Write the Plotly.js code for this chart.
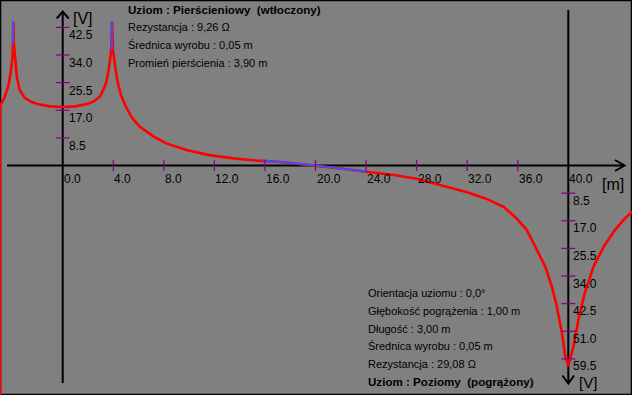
<!DOCTYPE html>
<html><head><meta charset="utf-8">
<script src="https://cdn.plot.ly/plotly-3.0.1.min.js"></script>
<style>html,body{margin:0;padding:0;background:#808080;overflow:hidden}</style>
</head><body>
<div id="chart" style="width:632px;height:395px"></div>
<script>
// ---- data (distance in m, potential in V; negative = below the axis) ----
const curveX = [-4.96, -4.96, -4.6, -4.3, -4.1, -3.98, -3.93, -3.9, -3.86, -3.78, -3.62, -3.4, -3.0, -2.5, -2.0, -1.0, 0,
  1.0, 2.0, 2.5, 3.0, 3.4, 3.62, 3.78, 3.86, 3.9, 3.93, 3.98, 4.1, 4.3, 4.6, 5.0, 5.5, 6.1, 7.2, 8.2, 9.8, 11.6, 13.5,
  15.4, 17.2, 18.8, 20.0, 22.0, 24.0, 26.2, 28.0, 30.1, 32.0, 33.5, 34.9, 35.9, 36.7, 37.2, 37.8, 38.2, 38.7, 39.1,
  39.5, 39.75, 40.0, 40.4, 40.8, 41.3, 42.0, 42.8, 43.7, 44.5, 45.05];
const curveV = [-70.6, 18.3, 21.0, 24.5, 29.0, 33.0, 37.5, 44.3, 37.5, 34.0, 27.0, 23.2, 20.8, 19.6, 18.9, 18.2, 18.0,
  18.2, 19.0, 19.8, 21.5, 25.0, 29.0, 33.5, 37.0, 44.3, 38.0, 35.5, 32.0, 26.5, 21.8, 18.0, 14.6, 11.9, 8.9, 6.8, 4.8, 3.2, 2.2,
  1.5, 1.1, 0.5, 0.0, -0.9, -1.9, -2.9, -4.1, -6.2, -8.2, -10.2, -12.8, -16.2, -19.8, -23.5, -28.0, -31.3, -37.3, -43.5,
  -51.6, -58.5, -61.7, -55.8, -47.5, -39.3, -31.1, -25.0, -19.8, -16.2, -14.2];
const blueX = [-3.93, -3.93, null, 3.88, 3.88, null, 15.85, 17.2, 18.8, 20.0, 22.0, 24.0];
const blueV = [37.5, 44.3, null, 35.5, 44.3, null, 1.5, 1.1, 0.5, 0.0, -0.9, -1.9];

const xTickVals = [0, 4, 8, 12, 16, 20, 24, 28, 32, 36, 40];
const xTickText = ["0.0", "4.0", "8.0", "12.0", "16.0", "20.0", "24.0", "28.0", "32.0", "36.0", "40.0"];
const yLeftVals = [8.5, 17.0, 25.5, 34.0, 42.5];
const yLeftText = ["8.5", "17.0", "25.5", "34.0", "42.5"];
const yRightVals = [8.5, 17.0, 25.5, 34.0, 42.5, 51.0, 59.5];
const yRightText = ["8.5", "17.0", "25.5", "34.0", "42.5", "51.0", "59.5"];

const ringInfo = ["<b>Uziom : Pierścieniowy \u00a0(wtłoczony)</b>", "Rezystancja : 9,26 Ω", "Średnica wyrobu : 0,05 m", "Promień pierścienia : 3,90 m"];
const lineInfo = ["Orientacja uziomu : 0,0°", "Głębokość pogrążenia : 1,00 m", "Długość : 3,00 m", "Średnica wyrobu : 0,05 m", "Rezystancja : 29,08 Ω", "<b>Uziom : Poziomy \u00a0(pogrążony)</b>"];

// ---- layout geometry (pixels) ----
const W = 632, H = 395;
const X0PX = 62.7, PXPM = 12.64, Y0PX = 165.5, PXPV = 3.25;
const fx = px => (px - X0PX) / PXPM;
const fy = py => (Y0PX - py) / PXPV;
const xRange = [fx(0), fx(W)];
const yRange = [fy(H), fy(0)];
const FONT = "Liberation Sans, Arial, sans-serif";
const TICKC = "#800080";

const traces = [
  {x: curveX, y: curveV, mode: "lines", line: {color: "#ff0000", width: 2.6}, hoverinfo: "skip"},
  {x: blueX, y: blueV, mode: "lines", line: {color: "#4a4af0", width: 2.2}, connectgaps: false, hoverinfo: "skip"},
  {x: xTickVals.slice(1, -1), y: xTickVals.slice(1, -1).map(() => 0), mode: "markers",
   marker: {symbol: "line-ns-open", size: 8, color: TICKC, line: {color: TICKC, width: 1.2}}, hoverinfo: "skip"},
  {x: yLeftVals.map(() => 0), y: yLeftVals, mode: "markers",
   marker: {symbol: "line-ew-open", size: 10, color: TICKC, line: {color: TICKC, width: 1.2}}, hoverinfo: "skip"},
  {x: yRightVals.map(() => 40), y: yRightVals.map(v => -v), mode: "markers",
   marker: {symbol: "line-ew-open", size: 10, color: TICKC, line: {color: TICKC, width: 1.2}}, hoverinfo: "skip"}
];

const axLine = {color: "#000000", width: 2};
const shapes = [
  {type: "rect", xref: "paper", yref: "paper", x0: 0, x1: 1, y0: 0, y1: 1, line: {color: "#000000", width: 2.5}, layer: "below"},
  {type: "line", xref: "x", yref: "y", x0: fx(7), x1: fx(624), y0: 0, y1: 0, line: axLine, layer: "below"},
  {type: "line", xref: "x", yref: "y", x0: 0, x1: 0, y0: fy(12), y1: fy(383), line: axLine, layer: "below"},
  {type: "line", xref: "x", yref: "y", x0: 40, x1: 40, y0: fy(10), y1: fy(383), line: axLine, layer: "below"},
  {type: "path", xref: "x", yref: "y", line: axLine, layer: "below",
   path: `M${fx(56.7)},${fy(18.5)} L${fx(62.7)},${fy(11.5)} L${fx(68.7)},${fy(18.5)}`},
  {type: "path", xref: "x", yref: "y", line: axLine, layer: "below",
   path: `M${fx(615)},${fy(160)} L${fx(624.5)},${fy(165.5)} L${fx(615)},${fy(171)}`},
  {type: "path", xref: "x", yref: "y", line: axLine, layer: "below",
   path: `M${fx(562.5)},${fy(375.5)} L${fx(568.3)},${fy(383.5)} L${fx(574.1)},${fy(375.5)}`}
];

const ann = [];
const tickFont = {family: FONT, size: 12, color: "#000000"};
xTickVals.forEach((v, i) => ann.push({x: v, y: 0, xref: "x", yref: "y", text: xTickText[i], showarrow: false,
  xanchor: "left", yanchor: "middle", xshift: -1, yshift: -13.5, font: tickFont}));
yLeftVals.forEach((v, i) => ann.push({x: 0, y: v, xref: "x", yref: "y", text: yLeftText[i], showarrow: false,
  xanchor: "left", yanchor: "middle", xshift: 4, yshift: -8, font: tickFont}));
yRightVals.forEach((v, i) => ann.push({x: 40, y: -v, xref: "x", yref: "y", text: yRightText[i], showarrow: false,
  xanchor: "left", yanchor: "middle", xshift: 4, yshift: -7.5, borderpad: 0, font: tickFont}));

const unitFont = {family: FONT, size: 16, color: "#000000"};
const pp = (px, py) => ({x: px / W, y: 1 - py / H});
ann.push(Object.assign({xref: "paper", yref: "paper", text: "[V]", showarrow: false, xanchor: "left", yanchor: "middle", font: unitFont}, pp(71, 18.5)));
ann.push(Object.assign({xref: "paper", yref: "paper", text: "[m]", showarrow: false, xanchor: "left", yanchor: "middle", font: unitFont}, pp(600, 184)));
ann.push(Object.assign({xref: "paper", yref: "paper", text: "[V]", showarrow: false, xanchor: "left", yanchor: "middle", borderpad: 0,
  font: {family: FONT, size: 15, color: "#000000"}}, pp(578, 382)));

const infoFont = {family: FONT, size: 11, color: "#000000"};
const boldFont = {family: FONT, size: 11.6, color: "#000000"};
const ringY = [9.5, 27, 45, 63];
ringInfo.forEach((t, i) => ann.push(Object.assign({xref: "paper", yref: "paper", text: t, showarrow: false,
  xanchor: "left", yanchor: "middle", font: i === 0 ? boldFont : infoFont}, pp(126, ringY[i]))));
const lineY = [292.5, 310.5, 328.5, 346, 363.5, 381.5];
lineInfo.forEach((t, i) => ann.push(Object.assign({xref: "paper", yref: "paper", text: t, showarrow: false,
  xanchor: "left", yanchor: "middle", font: i === lineInfo.length - 1 ? boldFont : infoFont}, pp(366, lineY[i]))));

const layout = {
  width: W, height: H, margin: {l: 0, r: 0, t: 0, b: 0, pad: 0},
  paper_bgcolor: "#808080", plot_bgcolor: "#808080", showlegend: false,
  xaxis: {range: xRange, visible: false, fixedrange: true},
  yaxis: {range: yRange, visible: false, fixedrange: true},
  shapes: shapes, annotations: ann, hovermode: false
};
Plotly.newPlot("chart", traces, layout, {displayModeBar: false, staticPlot: true});
</script>
</body></html>
